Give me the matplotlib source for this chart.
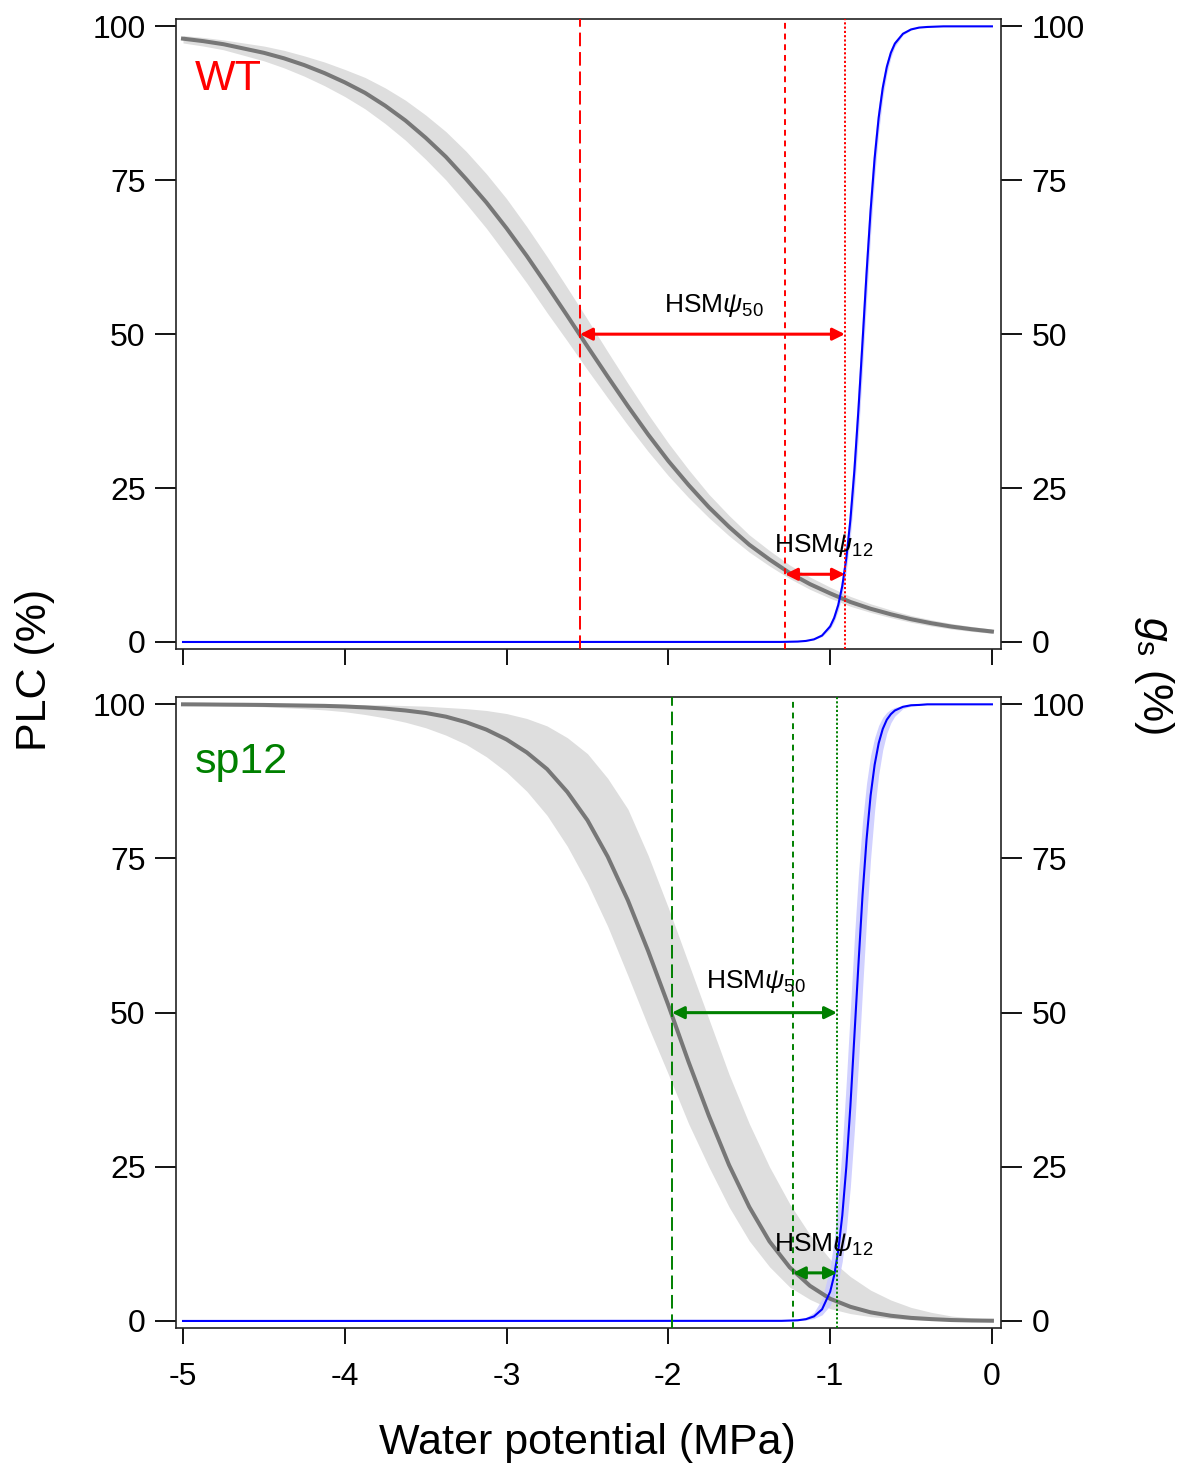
import matplotlib
matplotlib.use("Agg")
import matplotlib.pyplot as plt

plt.rcParams['font.family'] = ['Liberation Sans', 'DejaVu Sans']
plt.rcParams['mathtext.fontset'] = 'custom'
plt.rcParams['mathtext.rm'] = 'Liberation Sans'
plt.rcParams['mathtext.it'] = 'Liberation Sans:italic'

# ---- data ----
# vulnerability curves (PLC, %), sampled every 0.125 MPa
psi_plc = [-5, -4.875, -4.75, -4.625, -4.5, -4.375, -4.25, -4.125, -4,
           -3.875, -3.75, -3.625, -3.5, -3.375, -3.25, -3.125, -3,
           -2.875, -2.75, -2.625, -2.5, -2.375, -2.25, -2.125, -2,
           -1.875, -1.75, -1.625, -1.5, -1.375, -1.25, -1.125, -1,
           -0.875, -0.75, -0.625, -0.5, -0.375, -0.25, -0.125, 0]
wt_plc = [98.0, 97.6, 97.1, 96.4, 95.7, 94.8, 93.7, 92.4, 90.9, 89.2,
          87.1, 84.7, 81.9, 78.8, 75.2, 71.4, 67.2, 62.7, 57.9, 53.0,
          48.0, 43.1, 38.3, 33.7, 29.4, 25.5, 21.9, 18.7, 15.8, 13.4,
          11.2, 9.4, 7.9, 6.5, 5.4, 4.5, 3.7, 3.05, 2.5, 2.07, 1.7]
wt_plc_lo = [97.3, 96.8, 96.2, 95.3, 94.4, 93.25, 91.9, 90.35, 88.6, 86.6,
             84.2, 81.5, 78.4, 75.05, 71.2, 67.2, 62.8, 58.3, 53.5, 48.9,
             44.2, 39.65, 35.2, 30.95, 27.0, 23.45, 20.2, 17.25, 14.6, 12.35,
             10.3, 8.55, 7.1, 5.8, 4.8, 3.95, 3.2, 2.6, 2.1, 1.72, 1.4]
wt_plc_hi = [98.5, 98.2, 97.8, 97.3, 96.8, 96.1, 95.2, 94.2, 93.0, 91.7,
             90.0, 88.0, 85.6, 82.9, 79.7, 76.05, 72.0, 67.45, 62.6, 57.55,
             52.4, 47.15, 42.0, 37.0, 32.3, 28.0, 24.0, 20.55, 17.4, 14.85,
             12.5, 10.55, 8.9, 7.4, 6.2, 5.2, 4.3, 3.6, 3.0, 2.52, 2.1]
sp_plc = [100, 99.98, 99.95, 99.93, 99.9, 99.85, 99.8, 99.75, 99.65, 99.5,
          99.3, 99.0, 98.6, 98.0, 97.1, 95.9, 94.3, 92.2, 89.5, 85.8,
          81.2, 75.3, 68.2, 60.0, 51.2, 42.0, 33.3, 25.3, 18.5, 12.9,
          8.7, 5.7, 3.6, 2.3, 1.4, 0.85, 0.5, 0.3, 0.15, 0.08, 0.04]
sp_plc_lo = [99.9, 99.85, 99.8, 99.7, 99.6, 99.45, 99.3, 99.1, 98.8, 98.35,
             97.8, 97.1, 96.2, 95.0, 93.5, 91.5, 89.0, 85.9, 82.0, 77.0,
             71.0, 64.0, 56.0, 47.8, 40.0, 32.0, 25.0, 18.5, 13.0, 8.8,
             5.5, 3.5, 2.0, 1.2, 0.7, 0.4, 0.2, 0.1, 0.05, 0.02, 0]
sp_plc_hi = [100, 100, 100, 100, 100, 100, 100, 100, 100, 99.95,
             99.9, 99.8, 99.7, 99.5, 99.3, 99.0, 98.5, 97.7, 96.5, 94.6,
             92.0, 88.0, 83.0, 75.5, 67.0, 58.0, 49.0, 40.0, 32.0, 25.0,
             19.0, 14.0, 10.0, 7.2, 5.0, 3.4, 2.2, 1.4, 0.8, 0.5, 0.3]

# stomatal conductance curves (gs, % of max)
psi_gs = [-5, -1.3, -1.2, -1.15, -1.1, -1.05, -1.0, -0.975, -0.95, -0.925,
          -0.9, -0.875, -0.85, -0.825, -0.8, -0.775, -0.75, -0.725, -0.7,
          -0.675, -0.65, -0.625, -0.6, -0.55, -0.5, -0.45, -0.4, -0.3, 0]
wt_gs = [0, 0.01, 0.07, 0.17, 0.43, 1.05, 2.53, 3.92, 6.0, 9.1,
         13.6, 19.8, 27.9, 37.8, 48.7, 59.9, 70.1, 78.6, 85.2,
         90.0, 93.4, 95.7, 97.2, 98.8, 99.5, 99.8, 99.9, 100, 100]
wt_gs_lo = [0, 0.01, 0.06, 0.15, 0.36, 0.88, 2.13, 3.3, 5.1, 7.7,
            11.6, 17.1, 24.4, 33.6, 44.3, 55.5, 66.2, 75.4, 82.8,
            88.3, 92.2, 94.9, 96.7, 98.6, 99.4, 99.8, 99.9, 100, 100]
wt_gs_hi = [0, 0.01, 0.09, 0.21, 0.51, 1.25, 3.0, 4.7, 7.1, 10.7,
            15.8, 22.8, 31.6, 42.1, 53.2, 64.1, 73.7, 81.5, 87.3,
            91.5, 94.4, 96.4, 97.7, 99.0, 99.6, 99.8, 99.9, 100, 100]
sp_gs = [0, 0.02, 0.11, 0.29, 0.74, 1.89, 4.74, 7.4, 11.4, 17.1,
         25.0, 34.8, 46.3, 57.9, 69.0, 78.1, 85.2, 90.2, 93.7,
         96.0, 97.5, 98.4, 99.0, 99.6, 99.85, 99.9, 100, 100, 100]
sp_gs_lo = [0, 0.01, 0.06, 0.15, 0.39, 0.99, 2.5, 4.0, 6.3, 9.7,
            14.8, 21.8, 31.0, 41.8, 53.7, 65.0, 75.0, 82.8, 88.6,
            92.6, 95.3, 97.0, 98.1, 99.3, 99.7, 99.85, 99.95, 100, 100]
sp_gs_hi = [0, 0.03, 0.21, 0.55, 1.4, 3.6, 8.7, 13.2, 19.8, 28.3,
            38.9, 50.5, 62.2, 72.5, 81.0, 87.2, 91.7, 94.6, 96.6,
            97.9, 98.7, 99.2, 99.5, 99.8, 99.9, 100, 100, 100, 100]

# thresholds: P50, P12 (PLC) and gs12 (MPa)
wt_marks = [-2.546, -1.279, -0.909]
sp_marks = [-1.978, -1.230, -0.958]
# arrow heights (PLC %)
wt_arrow_y = [50, 11]
sp_arrow_y = [50, 7.8]

yticks = [0, 25, 50, 75, 100]
xticks = [-5, -4, -3, -2, -1, 0]

panels = [
    dict(name="WT", color="#ff0000", plc=wt_plc, lo=wt_plc_lo, hi=wt_plc_hi,
         gs=wt_gs, gs_lo=wt_gs_lo, gs_hi=wt_gs_hi, marks=wt_marks,
         arrow_y=wt_arrow_y, pos=[0.1492, 0.5585, 0.6991, 0.4286],
         lab50=(-1.72, 54.6), lab12=(-1.04, 15.6), name_y=91.5),
    dict(name="sp12", color="#008000", plc=sp_plc, lo=sp_plc_lo, hi=sp_plc_hi,
         gs=sp_gs, gs_lo=sp_gs_lo, gs_hi=sp_gs_hi, marks=sp_marks,
         arrow_y=sp_arrow_y, pos=[0.1492, 0.0966, 0.6991, 0.4293],
         lab50=(-1.46, 55.0), lab12=(-1.04, 12.4), name_y=90.6),
]

fig = plt.figure(figsize=(11.8, 14.7), dpi=100)

for i, p in enumerate(panels):
    ax = fig.add_axes(p["pos"])
    ax.fill_between(psi_plc, p["lo"], p["hi"], color="#dedede", lw=0, zorder=1)
    ax.plot(psi_plc, p["plc"], color="#777777", lw=2.9, zorder=3)
    ax.fill_between(psi_gs, p["gs_lo"], p["gs_hi"], color="#c9c9ff", lw=0,
                    alpha=0.85, zorder=2)
    ax.plot(psi_gs, p["gs"], color="#0000ff", lw=1.5, zorder=4)

    c = p["color"]
    styles = [(0, (7, 3)), (0, (3, 2.5)), (0, (1.1, 1.1))]
    for xv, ls in zip(p["marks"], styles):
        ax.axvline(xv, color=c, lw=1.4, ls=ls, zorder=5)

    arrow = dict(arrowstyle="<|-|>", color=c, lw=2.2, mutation_scale=18,
                 shrinkA=0, shrinkB=0)
    ax.annotate("", xy=(p["marks"][0], p["arrow_y"][0]),
                xytext=(p["marks"][2], p["arrow_y"][0]), arrowprops=arrow,
                zorder=6)
    ax.annotate("", xy=(p["marks"][1], p["arrow_y"][1]),
                xytext=(p["marks"][2], p["arrow_y"][1]), arrowprops=arrow,
                zorder=6)

    ax.text(*p["lab50"], r"HSM$\psi_{50}$", fontsize=19, ha="center",
            va="center", zorder=7)
    ax.text(*p["lab12"], r"HSM$\psi_{12}$", fontsize=19, ha="center",
            va="center", zorder=7)
    ax.text(-4.93, p["name_y"], p["name"], color=c, fontsize=31, ha="left",
            va="center")

    ax.set_xlim(-5.043, 0.056)
    ax.set_ylim(-1.14, 101.2)
    ax.set_xticks(xticks)
    ax.set_yticks(yticks)
    ax.set_xticklabels([str(t) for t in xticks] if i == 1 else [])
    ax.tick_params(axis="y", which="both", direction="out", length=15,
                   width=1.3, labelsize=23, pad=7, left=True, right=True,
                   labelleft=True, labelright=True)
    ax.tick_params(axis="x", direction="out", length=11.5, width=1.3,
                   labelsize=23, pad=13)
    for s in ax.spines.values():
        s.set_linewidth(1.2)
        s.set_color("#222222")

fig.text(0.498, 0.0184, "Water potential (MPa)", fontsize=31, ha="center",
         va="center")
fig.text(0.030, 0.544, "PLC (%)", fontsize=31, rotation=90, ha="center",
         va="center")
fig.text(0.978, 0.541, r"$g_\mathrm{s}$ (%)", fontsize=31, rotation=270,
         ha="center", va="center")

fig.savefig("out.png", dpi=100)
